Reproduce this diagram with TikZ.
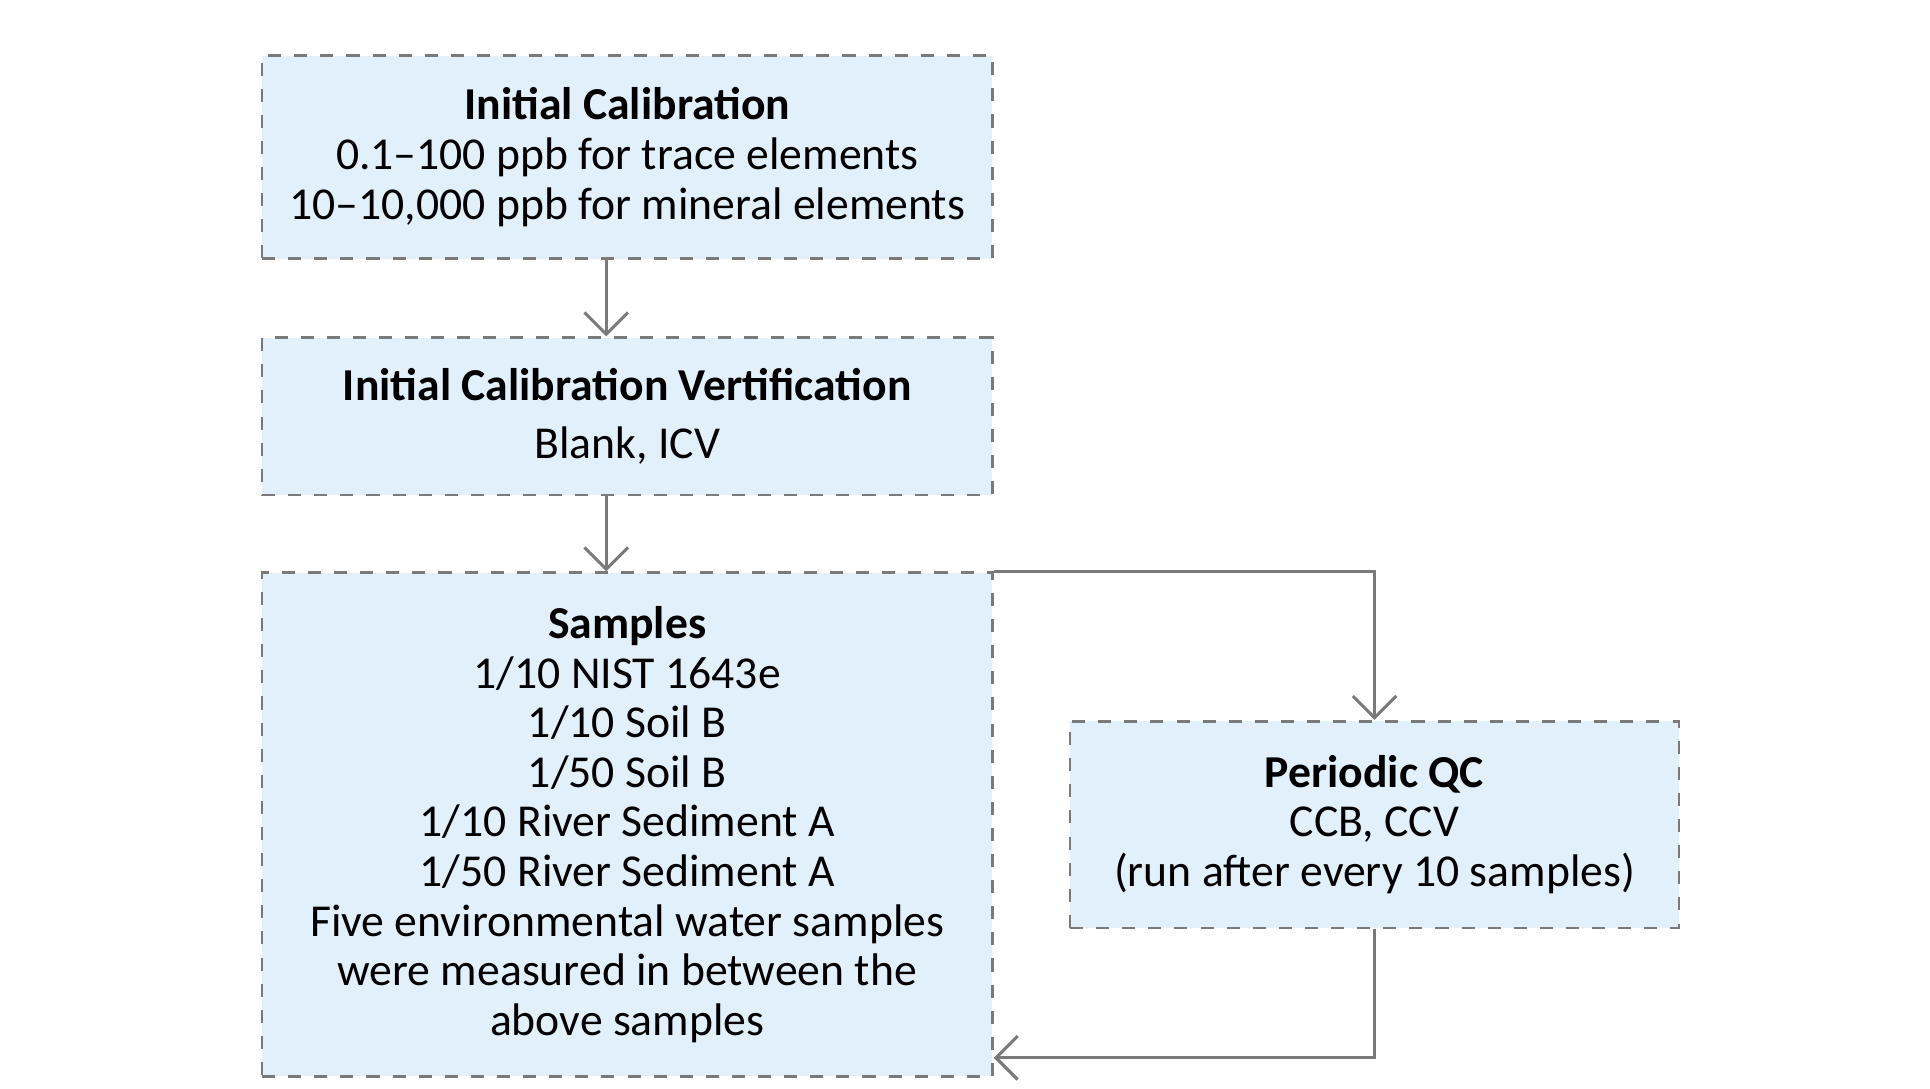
\documentclass[tikz,border=0pt]{standalone}
\usepackage{fontspec}
\setmainfont{Carlito}
\usetikzlibrary{arrows.meta}
\definecolor{boxfill}{HTML}{E2F0FB}
\definecolor{boxline}{HTML}{7A7A7A}
\begin{document}
\begin{tikzpicture}[x=0.01cm,y=-0.01cm]
            \tikzset{box/.style={draw=boxline,fill=boxfill,dashed,line width=0.6pt,align=center,font=\fontsize{10.5}{11.4}\selectfont,inner sep=0pt},
                     flow/.style={draw=boxline,line width=0.7pt,-{Straight Barb[length=5pt,width=10pt]}}}
            \useasboundingbox (0,0) rectangle (1560,880);
            \node [box,minimum width=5.9cm,minimum height=1.64cm] (cal) at (507,127) {\textbf{Initial Calibration}\\0.1--100 ppb for trace elements\\10--10,000 ppb for mineral elements};
            \node [box,minimum width=5.9cm,minimum height=1.27cm] (icv) at (507,336.5) {\textbf{Initial Calibration Vertification}\\[2pt]Blank, ICV};
            \node [box,minimum width=5.9cm,minimum height=4.07cm] (smp) at (507,666.5) {\textbf{Samples}\\1/10 NIST 1643e\\1/10 Soil B\\1/50 Soil B\\1/10 River Sediment A\\1/50 River Sediment A\\Five environmental water samples\\were measured in between the\\above samples};
            \node [box,minimum width=4.92cm,minimum height=1.67cm] (qc) at (1111,666.5) {\textbf{Periodic QC}\\CCB, CCV\\(run after every 10 samples)};
            \coordinate (c1) at (1111,855);
            \draw [flow] (cal.south -| 490,0) -- (icv.north -| 490,0);
            \draw [flow] (icv.south -| 490,0) -- (smp.north -| 490,0);
            \draw [flow] (smp.north east) -| (qc.north);
            \draw [flow] (qc.south) -- (c1) -- (c1 -| smp.east);
        \end{tikzpicture}
\end{document}
